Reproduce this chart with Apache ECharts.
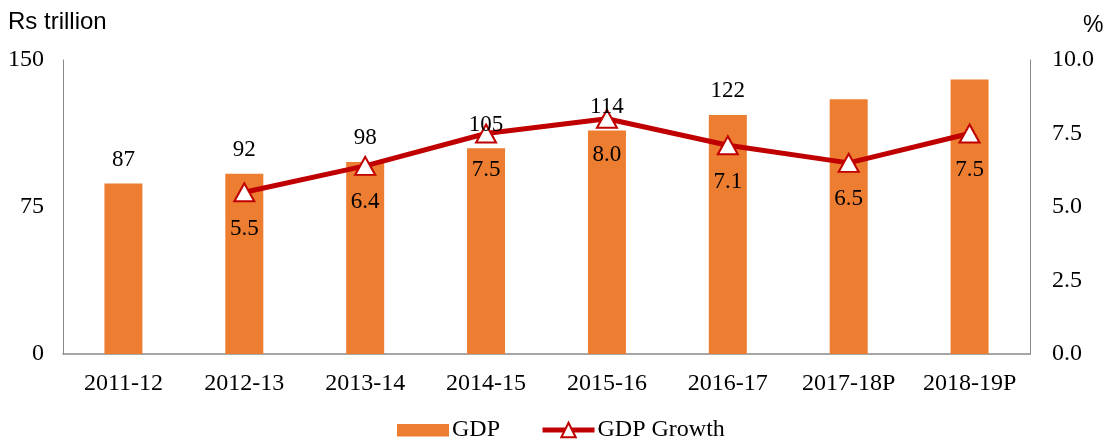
<!DOCTYPE html>
<html><head><meta charset="utf-8">
<script src="https://cdn.jsdelivr.net/npm/echarts@6/dist/echarts.min.js"></script>
<style>html,body{margin:0;padding:0;background:#fff}#c{width:1106px;height:439px}</style>
</head><body><div id="c"></div>
<script>
const categories = ['2011-12','2012-13','2013-14','2014-15','2015-16','2016-17','2017-18P','2018-19P'];
const gdp = [87, 92, 98, 105, 114, 122, 130, 140];
const gdpLabels = ['87','92','98','105','114','122','',''];
const growth = [null, 5.5, 6.4, 7.5, 8.0, 7.1, 6.5, 7.5];
const leftTicks = [0, 75, 150];
const rightTicks = [0, 2.5, 5, 7.5, 10];

const serif = '"Liberation Serif", "Times New Roman", serif';
const sans = '"Liberation Sans", Arial, sans-serif';
const chart = echarts.init(document.getElementById('c'));
chart.setOption({
  animation: false,
  backgroundColor: '#fff',
  grid: { left: 63, right: 76, top: 60, bottom: 85 },
  graphic: [
    { type: 'text', x: 8, y: 22.5, style: { text: 'Rs trillion', font: '24px ' + sans, fill: '#000', verticalAlign: 'middle' } },
    { type: 'text', x: 1083, y: 26, style: { text: '%', font: '23px ' + sans, fill: '#000', verticalAlign: 'middle' } }
  ],
  legend: {
    top: 418, left: 397, padding: 0,
    itemWidth: 52, itemHeight: 18, itemGap: 40,
    textStyle: { fontFamily: serif, fontSize: 24, color: '#000', padding: [0,0,0,-2] },
    data: [
      { name: 'GDP', icon: 'path://M0,0 M0,3 L52,3 L52,15.5 L0,15.5 Z M52,18' },
      { name: 'GDP Growth', lineStyle: { width: 5, color: '#C00000' } }
    ]
  },
  xAxis: {
    type: 'category', data: categories,
    axisLine: { lineStyle: { color: '#898989', width: 1.5 } },
    axisTick: { show: false },
    axisLabel: { fontFamily: serif, fontSize: 24, color: '#000', margin: 18, interval: 0 }
  },
  yAxis: [
    { type: 'value', min: 0, max: 150, interval: 75,
      axisLine: { show: true, lineStyle: { color: '#898989' } },
      axisTick: { show: false }, splitLine: { show: false },
      axisLabel: { fontFamily: serif, fontSize: 24, color: '#000', margin: 19,
        formatter: v => leftTicks.includes(v) ? String(v) : '' } },
    { type: 'value', min: 0, max: 10, interval: 2.5,
      axisLine: { show: true, lineStyle: { color: '#898989' } },
      axisTick: { show: false }, splitLine: { show: false },
      axisLabel: { fontFamily: serif, fontSize: 24, color: '#000', margin: 22,
        formatter: v => rightTicks.includes(v) ? v.toFixed(1) : '' } }
  ],
  series: [
    { name: 'GDP', type: 'bar', data: gdp, barWidth: 38, yAxisIndex: 0,
      itemStyle: { color: '#ED7D31' } },
    { name: 'GDP Growth', type: 'line', data: growth, yAxisIndex: 1,
      symbol: 'triangle', symbolSize: [20, 18], showAllSymbol: true,
      lineStyle: { color: '#C00000', width: 5 },
      itemStyle: { color: '#fff', borderColor: '#C00000', borderWidth: 2 },
      label: { show: true, position: 'bottom', distance: 15, fontFamily: serif, fontSize: 23, color: '#000',
        formatter: p => p.value.toFixed(1) } },
    { name: 'GDP labels', type: 'scatter', data: gdp, yAxisIndex: 0, symbolSize: 0, z: 10,
      silent: true, itemStyle: { opacity: 1, color: 'transparent' },
      label: { show: true, position: 'top', distance: 12, fontFamily: serif, fontSize: 23, color: '#000',
        formatter: p => gdpLabels[p.dataIndex] } }
  ]
});
</script></body></html>
